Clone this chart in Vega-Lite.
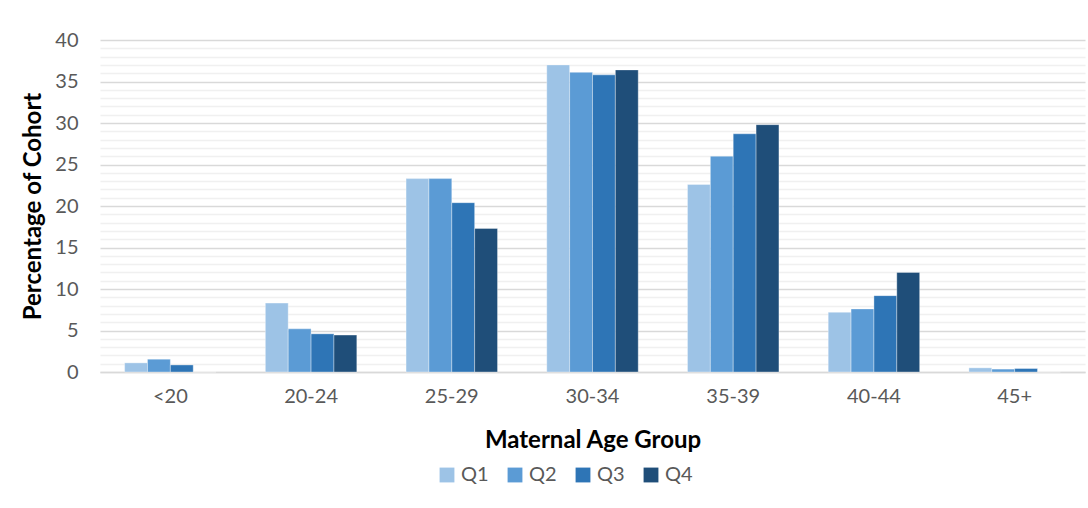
{
  "$schema": "https://vega.github.io/schema/vega-lite/v6.json",
  "width": 985,
  "height": 332,
  "autosize": {"type": "none"},
  "padding": {"left": 100, "top": 40, "right": 3, "bottom": 136},
  "background": "white",
  "config": {
    "font": "Lato",
    "view": {"stroke": null}
  },
  "data": {
    "values": [
      {"age": "<20", "q": "Q1", "pct": 1.1},
      {"age": "<20", "q": "Q2", "pct": 1.55},
      {"age": "<20", "q": "Q3", "pct": 0.85},
      {"age": "<20", "q": "Q4", "pct": 0},
      {"age": "20-24", "q": "Q1", "pct": 8.3},
      {"age": "20-24", "q": "Q2", "pct": 5.2},
      {"age": "20-24", "q": "Q3", "pct": 4.6},
      {"age": "20-24", "q": "Q4", "pct": 4.45},
      {"age": "25-29", "q": "Q1", "pct": 23.3},
      {"age": "25-29", "q": "Q2", "pct": 23.3},
      {"age": "25-29", "q": "Q3", "pct": 20.4},
      {"age": "25-29", "q": "Q4", "pct": 17.3},
      {"age": "30-34", "q": "Q1", "pct": 37.0},
      {"age": "30-34", "q": "Q2", "pct": 36.1},
      {"age": "30-34", "q": "Q3", "pct": 35.8},
      {"age": "30-34", "q": "Q4", "pct": 36.4},
      {"age": "35-39", "q": "Q1", "pct": 22.6},
      {"age": "35-39", "q": "Q2", "pct": 26.0},
      {"age": "35-39", "q": "Q3", "pct": 28.7},
      {"age": "35-39", "q": "Q4", "pct": 29.8},
      {"age": "40-44", "q": "Q1", "pct": 7.2},
      {"age": "40-44", "q": "Q2", "pct": 7.6},
      {"age": "40-44", "q": "Q3", "pct": 9.2},
      {"age": "40-44", "q": "Q4", "pct": 12.0},
      {"age": "45+", "q": "Q1", "pct": 0.5},
      {"age": "45+", "q": "Q2", "pct": 0.35},
      {"age": "45+", "q": "Q3", "pct": 0.42},
      {"age": "45+", "q": "Q4", "pct": 0}
    ]
  },
  "mark": {"type": "bar", "stroke": "white", "strokeOpacity": 0.35, "strokeWidth": 1},
  "encoding": {
    "x": {
      "field": "age",
      "type": "nominal",
      "sort": ["<20", "20-24", "25-29", "30-34", "35-39", "40-44", "45+"],
      "scale": {"paddingInner": 0.35, "paddingOuter": 0.175},
      "axis": {
        "title": "Maternal Age Group",
        "titleFontSize": 24,
        "titleFontWeight": "bold",
        "titleColor": "black",
        "titlePadding": 22,
        "labelAngle": 0,
        "labelFontSize": 20,
        "labelColor": "#595959",
        "labelPadding": 14,
        "ticks": false,
        "domainColor": "#d9d9d9",
        "domainWidth": 1.5
      }
    },
    "xOffset": {"field": "q", "type": "nominal", "scale": {"paddingInner": 0, "paddingOuter": 0}},
    "y": {
      "field": "pct",
      "type": "quantitative",
      "scale": {"domain": [0, 40], "nice": false},
      "axis": {
        "title": "Percentage of Cohort",
        "titleFontSize": 24,
        "titleFontWeight": "bold",
        "titleColor": "black",
        "titlePadding": 9,
        "values": [0,1,2,3,4,5,6,7,8,9,10,11,12,13,14,15,16,17,18,19,20,21,22,23,24,25,26,27,28,29,30,31,32,33,34,35,36,37,38,39,40],
        "labelExpr": "datum.value % 5 === 0 ? datum.label : ''",
        "labelOverlap": false,
        "labelFontSize": 20,
        "labelColor": "#595959",
        "labelPadding": 22,
        "ticks": false,
        "domain": false,
        "gridColor": {"condition": {"test": "datum.value % 5 === 0", "value": "#d9d9d9"}, "value": "#f0f0f0"},
        "gridWidth": 1.5
      }
    },
    "color": {
      "field": "q",
      "type": "nominal",
      "scale": {"domain": ["Q1", "Q2", "Q3", "Q4"], "range": ["#9dc3e6", "#5b9bd5", "#2e75b6", "#1f4e79"]},
      "legend": {
        "title": null,
        "orient": "none",
        "legendX": 337,
        "legendY": 425,
        "direction": "horizontal",
        "symbolType": "square",
        "symbolSize": 220,
        "symbolStrokeWidth": 0,
        "labelFontSize": 20,
        "labelColor": "#595959",
        "labelOffset": 4,
        "columnPadding": 16
      }
    }
  }
}
